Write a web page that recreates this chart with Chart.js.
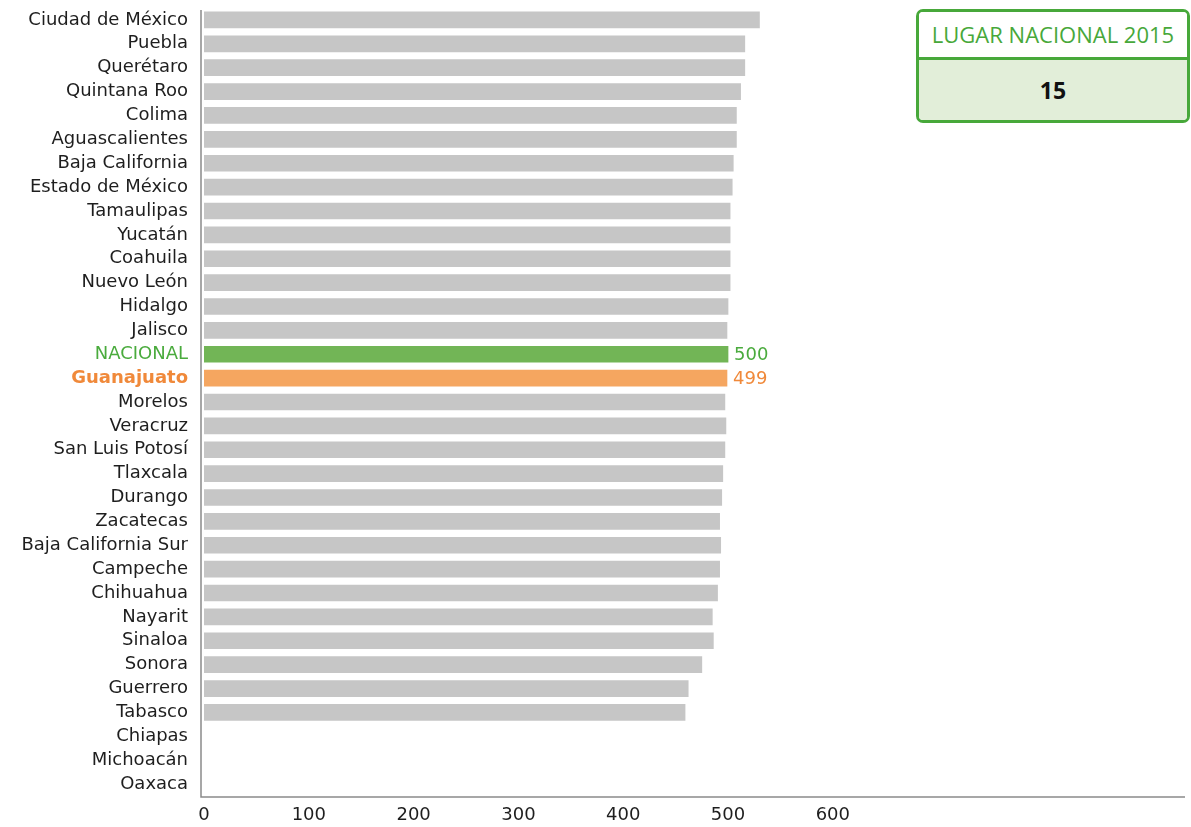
<!DOCTYPE html>
<html>
<head>
<meta charset="utf-8">
<script src="https://cdn.jsdelivr.net/npm/chart.js@4.4.1/dist/chart.umd.min.js"></script>
<style>
  html, body { margin: 0; padding: 0; background: #fff; }
  #wrap { position: relative; width: 1191px; height: 827px; }
  #lugar {
    position: absolute; left: 916px; top: 9px; width: 274px; height: 114px;
    border: 3px solid #47a83a; border-radius: 7px; overflow: hidden;
    font-family: "Open Sans", sans-serif; box-sizing: border-box;
  }
  #lugar .head {
    height: 45px; line-height: 45px; text-align: center; color: #47a83a;
    font-size: 22px; border-bottom: 3px solid #47a83a; background: #fff;
  }
  #lugar .val {
    height: 63px; line-height: 60px; text-align: center; background: #e2eed9;
    font-size: 23px; font-weight: bold; color: #111;
  }
</style>
</head>
<body>
<div id="wrap">
  <canvas id="chart" width="1191" height="827"></canvas>
  <div id="lugar">
    <div class="head">LUGAR NACIONAL 2015</div>
    <div class="val">15</div>
  </div>
</div>
<script>
const estados = [
  "Ciudad de México", "Puebla", "Querétaro", "Quintana Roo", "Colima",
  "Aguascalientes", "Baja California", "Estado de México", "Tamaulipas",
  "Yucatán", "Coahuila", "Nuevo León", "Hidalgo", "Jalisco", "NACIONAL",
  "Guanajuato", "Morelos", "Veracruz", "San Luis Potosí", "Tlaxcala",
  "Durango", "Zacatecas", "Baja California Sur", "Campeche", "Chihuahua",
  "Nayarit", "Sinaloa", "Sonora", "Guerrero", "Tabasco", "Chiapas",
  "Michoacán", "Oaxaca"
];
const puntajes = [
  530, 516, 516, 512, 508, 508, 505, 504, 502, 502, 502, 502, 500, 499, 500,
  499, 497, 498, 497, 495, 494, 492, 493, 492, 490, 485, 486, 475, 462, 459,
  null, null, null
];
const xTicks = [0, 100, 200, 300, 400, 500, 600];

const FUENTE = "DejaVu Sans";
const GRIS = "#c6c6c6";
const VERDE = "#72b556";
const NARANJA = "#f5a660";
const idxNacional = estados.indexOf("NACIONAL");
const idxGto = estados.indexOf("Guanajuato");

function colorBarra(i) {
  if (i === idxNacional) return VERDE;
  if (i === idxGto) return NARANJA;
  return GRIS;
}

// axis lines and value labels for NACIONAL / Guanajuato
const extras = {
  id: "extras",
  afterDatasetsDraw(chart) {
    const { ctx, chartArea } = chart;
    const x = chart.scales.x, y = chart.scales.y;
    ctx.save();
    ctx.strokeStyle = "#8a8a8a";
    ctx.lineWidth = 1.5;
    ctx.beginPath();
    ctx.moveTo(chartArea.left - 3, chartArea.top + 2);
    ctx.lineTo(chartArea.left - 3, chartArea.bottom + 1);
    ctx.lineTo(chartArea.right, chartArea.bottom + 1);
    ctx.stroke();

    ctx.font = "18px '" + FUENTE + "', sans-serif";
    ctx.textBaseline = "middle";
    ctx.textAlign = "left";
    [[idxNacional, "#4aab3d"], [idxGto, "#f0893a"]].forEach(([i, c]) => {
      ctx.fillStyle = c;
      ctx.fillText(String(puntajes[i]), x.getPixelForValue(puntajes[i]) + 6, y.getPixelForValue(i) + 1);
    });
    ctx.restore();
  }
};

new Chart(document.getElementById("chart"), {
  type: "bar",
  data: {
    labels: estados,
    datasets: [{
      data: puntajes,
      backgroundColor: estados.map((e, i) => colorBarra(i)),
      barThickness: 16
    }]
  },
  options: {
    indexAxis: "y",
    responsive: false,
    animation: false,
    layout: { padding: { left: 0, right: 6, top: 8, bottom: 0 } },
    plugins: { legend: { display: false }, tooltip: { enabled: false } },
    scales: {
      x: {
        min: 0,
        max: 936,
        afterBuildTicks: s => { s.ticks = xTicks.map(v => ({ value: v })); },
        afterFit: s => { s.height = 31; s.paddingLeft = 0; s.paddingRight = 0; },
        grid: { display: false, drawTicks: false },
        border: { display: false },
        ticks: { color: "#1e1e1e", padding: 9, maxRotation: 0, font: { family: FUENTE, size: 18 } }
      },
      y: {
        afterFit: s => { s.width = 204; s.paddingTop = 0; s.paddingBottom = 0; },
        grid: {
          display: true, drawOnChartArea: false, drawTicks: true,
          tickLength: 15, tickColor: "rgba(0,0,0,0)"
        },
        border: { display: false },
        ticks: {
          padding: 1,
          autoSkip: false,
          color: c => c.index === idxNacional ? "#4aab3d" : (c.index === idxGto ? "#f0893a" : "#1e1e1e"),
          font: c => ({ family: FUENTE, size: 18, weight: c.index === idxGto ? "bold" : "normal" })
        }
      }
    }
  },
  plugins: [extras]
});
</script>
</body>
</html>
